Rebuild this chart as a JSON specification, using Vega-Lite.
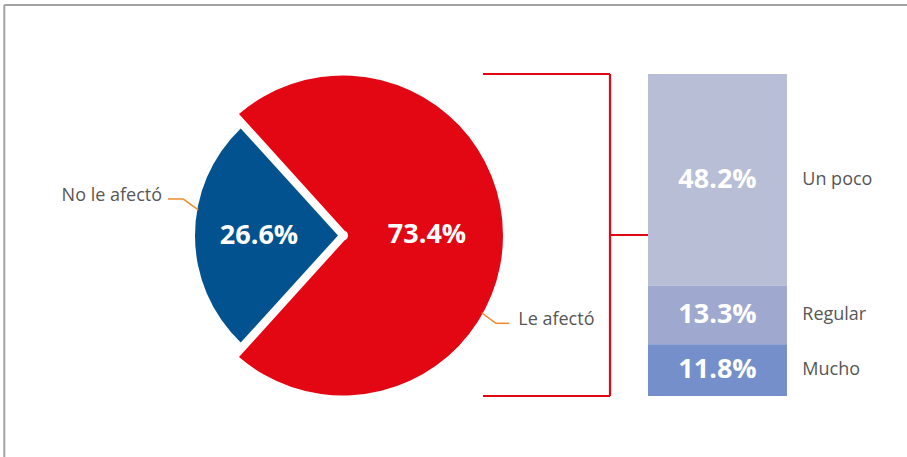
{
  "$schema": "https://vega.github.io/schema/vega-lite/v6.json",
  "width": 686,
  "height": 443,
  "autosize": {"type": "none"},
  "padding": {"left": 0, "top": 14, "right": 221, "bottom": 0},
  "background": "white",
  "config": {"view": {"stroke": null}},
  "datasets": {
    "pie": [
      {"cat": "Le afectó", "pct": 0.734},
      {"cat": "No le afectó", "pct": 0.266}
    ],
    "bar": [
      {"cat": "Un poco", "pct": 0.482},
      {"cat": "Regular", "pct": 0.133},
      {"cat": "Mucho", "pct": 0.118}
    ]
  },
  "layer": [
    {
      "data": {"values": [{}]},
      "mark": {"type": "rule", "color": "#a3a3a3", "strokeWidth": 2},
      "encoding": {
        "x": {"datum": 0.627, "type": "quantitative", "scale": {"domain": [0, 100], "nice": false, "zero": false}, "axis": null},
        "x2": {"datum": 135},
        "y": {"datum": 0.8901, "type": "quantitative", "scale": {"domain": [-0.1389, 0.8696], "nice": false, "zero": false}, "axis": null}
      }
    },
    {
      "data": {"values": [{}]},
      "mark": {"type": "rule", "color": "#a3a3a3", "strokeWidth": 2},
      "encoding": {
        "x": {"datum": 0.627, "type": "quantitative", "scale": {"domain": [0, 100], "nice": false, "zero": false}, "axis": null},
        "y": {"datum": 0.8901, "type": "quantitative", "scale": {"domain": [-0.1389, 0.8696], "nice": false, "zero": false}, "axis": null},
        "y2": {"datum": -0.15}
      }
    },
    {
      "data": {"name": "pie"},
      "mark": {"type": "arc", "radius": 160, "innerRadius": 5, "padAngle": 0.055},
      "encoding": {
        "theta": {"field": "pct", "type": "quantitative", "stack": true, "scale": {"range": [3.8767, 10.1599]}},
        "order": {"field": "pct", "type": "quantitative", "sort": "ascending"},
        "color": {"field": "cat", "type": "nominal", "legend": null, "scale": {"domain": ["Le afectó", "No le afectó", "Un poco", "Regular", "Mucho"], "range": ["#e30613", "#02528f", "#b8bed6", "#9fa9cf", "#748fca"]}},
        "opacity": {"condition": {"test": "datum.cat === 'Le afectó'", "value": 1}, "value": 0}
      }
    },
    {
      "data": {"name": "pie"},
      "mark": {"type": "arc", "radius": 148, "innerRadius": 5, "padAngle": 0.055},
      "encoding": {
        "theta": {"field": "pct", "type": "quantitative", "stack": true, "scale": {"range": [3.8767, 10.1599]}},
        "order": {"field": "pct", "type": "quantitative", "sort": "ascending"},
        "color": {"field": "cat", "type": "nominal", "legend": null, "scale": {"domain": ["Le afectó", "No le afectó", "Un poco", "Regular", "Mucho"], "range": ["#e30613", "#02528f", "#b8bed6", "#9fa9cf", "#748fca"]}},
        "opacity": {"condition": {"test": "datum.cat === 'No le afectó'", "value": 1}, "value": 0}
      }
    },
    {
      "data": {"name": "pie"},
      "mark": {"type": "text", "radius": 84, "font": "Open Sans", "fontWeight": "bold", "fontSize": 27, "color": "white", "align": "center", "baseline": "middle"},
      "encoding": {
        "theta": {"field": "pct", "type": "quantitative", "stack": true, "scale": {"range": [3.8767, 10.1599]}},
        "order": {"field": "pct", "type": "quantitative", "sort": "ascending"},
        "text": {"field": "pct", "type": "quantitative", "format": ".1%"}
      }
    },
    {
      "data": {"values": [{}]},
      "mark": {"type": "rule", "color": "#f08a2d", "strokeWidth": 1.5},
      "encoding": {
        "x": {"datum": 24.49, "type": "quantitative", "scale": {"domain": [0, 100], "nice": false, "zero": false}, "axis": null},
        "x2": {"datum": 26.68},
        "y": {"datum": 0.4485, "type": "quantitative", "scale": {"domain": [-0.1389, 0.8696], "nice": false, "zero": false}, "axis": null}
      }
    },
    {
      "data": {"values": [{}]},
      "mark": {"type": "rule", "color": "#f08a2d", "strokeWidth": 1.5},
      "encoding": {
        "x": {"datum": 26.68, "type": "quantitative", "scale": {"domain": [0, 100], "nice": false, "zero": false}, "axis": null},
        "x2": {"datum": 28.9},
        "y": {"datum": 0.4485, "type": "quantitative", "scale": {"domain": [-0.1389, 0.8696], "nice": false, "zero": false}, "axis": null},
        "y2": {"datum": 0.4235}
      }
    },
    {
      "data": {"values": [{}]},
      "mark": {"type": "rule", "color": "#f08a2d", "strokeWidth": 1.5},
      "encoding": {
        "x": {"datum": 70.2, "type": "quantitative", "scale": {"domain": [0, 100], "nice": false, "zero": false}, "axis": null},
        "x2": {"datum": 72.3},
        "y": {"datum": 0.1895, "type": "quantitative", "scale": {"domain": [-0.1389, 0.8696], "nice": false, "zero": false}, "axis": null},
        "y2": {"datum": 0.1655}
      }
    },
    {
      "data": {"values": [{}]},
      "mark": {"type": "rule", "color": "#f08a2d", "strokeWidth": 1.5},
      "encoding": {
        "x": {"datum": 72.3, "type": "quantitative", "scale": {"domain": [0, 100], "nice": false, "zero": false}, "axis": null},
        "x2": {"datum": 74.24},
        "y": {"datum": 0.1655, "type": "quantitative", "scale": {"domain": [-0.1389, 0.8696], "nice": false, "zero": false}, "axis": null}
      }
    },
    {
      "data": {"name": "pie"},
      "transform": [{"filter": "datum.cat === 'No le afectó'"}],
      "mark": {"type": "text", "font": "Open Sans", "fontSize": 18, "color": "#575757", "align": "right", "baseline": "middle"},
      "encoding": {
        "x": {"datum": 23.62, "type": "quantitative", "scale": {"domain": [0, 100], "nice": false, "zero": false}, "axis": null},
        "y": {"datum": 0.4553, "type": "quantitative", "scale": {"domain": [-0.1389, 0.8696], "nice": false, "zero": false}, "axis": null},
        "text": {"field": "cat", "type": "nominal"}
      }
    },
    {
      "data": {"name": "pie"},
      "transform": [{"filter": "datum.cat === 'Le afectó'"}],
      "mark": {"type": "text", "font": "Open Sans", "fontSize": 18, "color": "#575757", "align": "left", "baseline": "middle"},
      "encoding": {
        "x": {"datum": 75.55, "type": "quantitative", "scale": {"domain": [0, 100], "nice": false, "zero": false}, "axis": null},
        "y": {"datum": 0.173, "type": "quantitative", "scale": {"domain": [-0.1389, 0.8696], "nice": false, "zero": false}, "axis": null},
        "text": {"field": "cat", "type": "nominal"}
      }
    },
    {
      "data": {"values": [{}]},
      "mark": {"type": "rule", "color": "#e30613", "strokeWidth": 2.2},
      "encoding": {
        "x": {"datum": 70.41, "type": "quantitative", "scale": {"domain": [0, 100], "nice": false, "zero": false}, "axis": null},
        "x2": {"datum": 88.92},
        "y": {"datum": 0.733, "type": "quantitative", "scale": {"domain": [-0.1389, 0.8696], "nice": false, "zero": false}, "axis": null}
      }
    },
    {
      "data": {"values": [{}]},
      "mark": {"type": "rule", "color": "#e30613", "strokeWidth": 2.2},
      "encoding": {
        "x": {"datum": 70.41, "type": "quantitative", "scale": {"domain": [0, 100], "nice": false, "zero": false}, "axis": null},
        "x2": {"datum": 88.92},
        "y": {"datum": 0, "type": "quantitative", "scale": {"domain": [-0.1389, 0.8696], "nice": false, "zero": false}, "axis": null}
      }
    },
    {
      "data": {"values": [{}]},
      "mark": {"type": "rule", "color": "#e30613", "strokeWidth": 2.2},
      "encoding": {
        "x": {"datum": 88.92, "type": "quantitative", "scale": {"domain": [0, 100], "nice": false, "zero": false}, "axis": null},
        "y": {"datum": 0.733, "type": "quantitative", "scale": {"domain": [-0.1389, 0.8696], "nice": false, "zero": false}, "axis": null},
        "y2": {"datum": 0}
      }
    },
    {
      "data": {"values": [{}]},
      "mark": {"type": "rule", "color": "#e30613", "strokeWidth": 2.2},
      "encoding": {
        "x": {"datum": 88.92, "type": "quantitative", "scale": {"domain": [0, 100], "nice": false, "zero": false}, "axis": null},
        "x2": {"datum": 94.46},
        "y": {"datum": 0.3665, "type": "quantitative", "scale": {"domain": [-0.1389, 0.8696], "nice": false, "zero": false}, "axis": null}
      }
    },
    {
      "data": {"name": "bar"},
      "transform": [{"stack": "pct", "groupby": [], "sort": [{"field": "pct", "order": "ascending"}], "as": ["y0", "y1"]}],
      "mark": {"type": "bar"},
      "encoding": {
        "x": {"datum": 94.46, "type": "quantitative", "scale": {"domain": [0, 100], "nice": false, "zero": false}, "axis": null},
        "x2": {"datum": 114.72},
        "y": {"field": "y0", "type": "quantitative", "scale": {"domain": [-0.1389, 0.8696], "nice": false, "zero": false}, "axis": null},
        "y2": {"field": "y1"},
        "color": {"field": "cat", "type": "nominal", "legend": null, "scale": {"domain": ["Le afectó", "No le afectó", "Un poco", "Regular", "Mucho"], "range": ["#e30613", "#02528f", "#b8bed6", "#9fa9cf", "#748fca"]}}
      }
    },
    {
      "data": {"name": "bar"},
      "mark": {"type": "text", "font": "Open Sans", "fontWeight": "bold", "fontSize": 27, "color": "white", "align": "center", "baseline": "middle"},
      "encoding": {
        "x": {"datum": 104.59, "type": "quantitative", "scale": {"domain": [0, 100], "nice": false, "zero": false}, "axis": null},
        "y": {"field": "pct", "type": "quantitative", "stack": "zero", "bandPosition": 0.5, "scale": {"domain": [-0.1389, 0.8696], "nice": false, "zero": false}, "axis": null},
        "order": {"field": "pct", "type": "quantitative", "sort": "ascending"},
        "text": {"field": "pct", "type": "quantitative", "format": ".1%"}
      }
    },
    {
      "data": {"name": "bar"},
      "mark": {"type": "text", "font": "Open Sans", "fontSize": 18, "color": "#575757", "align": "left", "baseline": "middle"},
      "encoding": {
        "x": {"datum": 116.95, "type": "quantitative", "scale": {"domain": [0, 100], "nice": false, "zero": false}, "axis": null},
        "y": {"field": "pct", "type": "quantitative", "stack": "zero", "bandPosition": 0.5, "scale": {"domain": [-0.1389, 0.8696], "nice": false, "zero": false}, "axis": null},
        "order": {"field": "pct", "type": "quantitative", "sort": "ascending"},
        "text": {"field": "cat", "type": "nominal"}
      }
    }
  ]
}
